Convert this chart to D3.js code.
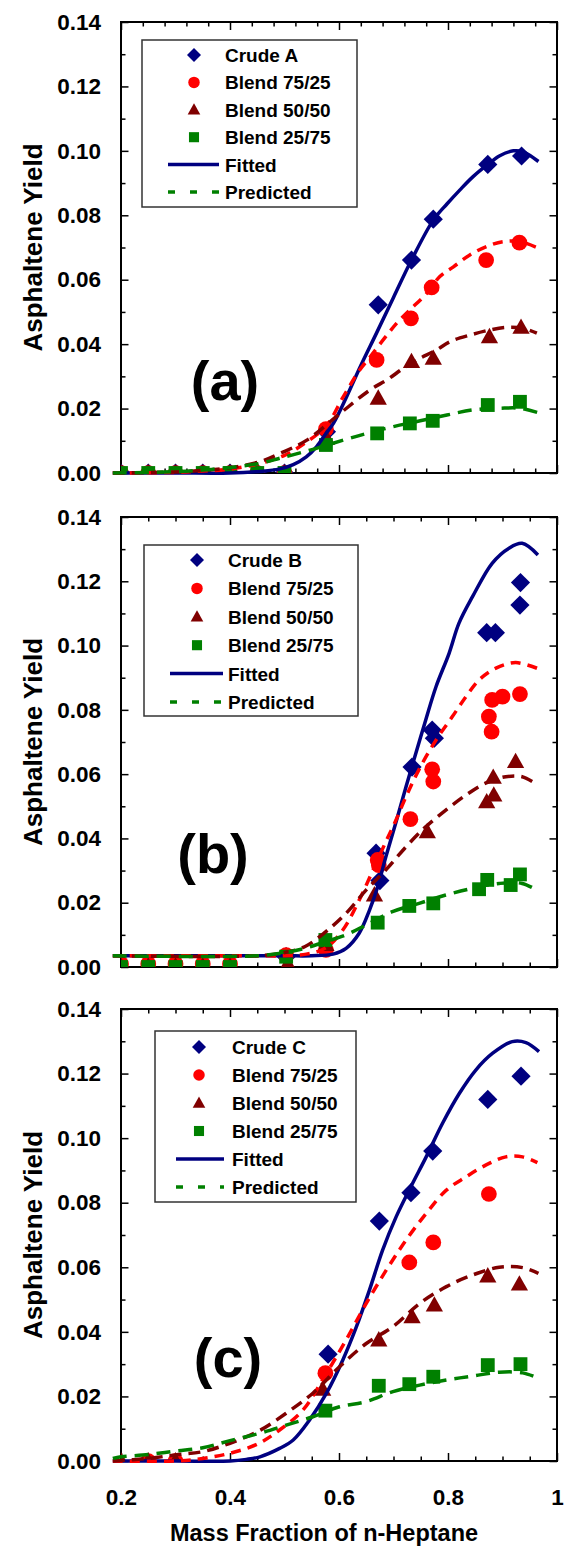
<!DOCTYPE html>
<html><head><meta charset="utf-8">
<script src="https://cdn.jsdelivr.net/npm/d3@7"></script>
<style>
body{margin:0;background:#fff}
svg{display:block}
text{font-family:"Liberation Sans",Arial,sans-serif;font-weight:bold;fill:#000}
</style>
</head><body>
<svg id="chart" width="566" height="1548"></svg>
<script>
// ---------- data ----------
const seriesLabels = ["Blend 75/25", "Blend 50/50", "Blend 25/75"];
const lineLabels = ["Fitted", "Predicted"];
const yTickValues = [0, 0.02, 0.04, 0.06, 0.08, 0.10, 0.12, 0.14];
const yTickLabels = ["0.00", "0.02", "0.04", "0.06", "0.08", "0.10", "0.12", "0.14"];
const xTickValues = [0.2, 0.4, 0.6, 0.8, 1.0];
const xTickLabels = ["0.2", "0.4", "0.6", "0.8", "1"];
const xTitle = "Mass Fraction of n-Heptane";
const yTitle = "Asphaltene Yield";

// Panel (a)
const crudeA = [[0.2,0],[0.25,0],[0.3,0],[0.35,0],[0.4,0],[0.45,0],[0.5,0],[0.577,0.0128],[0.672,0.0522],[0.733,0.0661],[0.773,0.0788],[0.873,0.0958],[0.935,0.0984]];
const blend75A = [[0.2,0],[0.25,0],[0.3,0],[0.35,0],[0.4,0],[0.45,0],[0.5,0],[0.576,0.0136],[0.669,0.0351],[0.732,0.048],[0.770,0.0576],[0.870,0.0661],[0.931,0.0715]];
const blend50A = [[0.2,0],[0.25,0],[0.3,0],[0.35,0],[0.4,0],[0.45,0],[0.5,0],[0.577,0.0108],[0.672,0.0232],[0.733,0.0346],[0.773,0.0356],[0.876,0.0423],[0.934,0.0452]];
const blend25A = [[0.2,0],[0.25,0],[0.3,0],[0.35,0],[0.4,0],[0.45,0],[0.5,0],[0.576,0.0087],[0.670,0.0123],[0.730,0.0154],[0.772,0.0162],[0.873,0.0211],[0.932,0.0221]];
const fittedA = [[0.185,0],[0.3,0],[0.4,0],[0.455,0.0005],[0.49,0.0012],[0.516,0.0026],[0.54,0.005],[0.559,0.0082],[0.577,0.0125],[0.59,0.0155],[0.614,0.0237],[0.639,0.033],[0.669,0.0435],[0.70,0.0545],[0.733,0.0661],[0.773,0.0785],[0.798,0.0835],[0.822,0.0879],[0.846,0.092],[0.873,0.0958],[0.895,0.0985],[0.92,0.1],[0.938,0.0997],[0.966,0.0967]];
const pred75A = [[0.185,0],[0.3,0.0002],[0.35,0.0006],[0.4,0.0012],[0.455,0.003],[0.5,0.0055],[0.535,0.009],[0.576,0.0145],[0.608,0.0237],[0.638,0.032],[0.657,0.036],[0.681,0.0413],[0.706,0.0465],[0.73,0.0506],[0.761,0.0558],[0.785,0.061],[0.81,0.064],[0.84,0.0677],[0.871,0.0703],[0.901,0.0718],[0.932,0.0718],[0.963,0.070]];
const pred50A = [[0.185,0],[0.3,0.0003],[0.35,0.0008],[0.4,0.0016],[0.455,0.0035],[0.492,0.0061],[0.541,0.0102],[0.602,0.0185],[0.657,0.0258],[0.688,0.0289],[0.718,0.0325],[0.743,0.0351],[0.779,0.0382],[0.804,0.0408],[0.84,0.0428],[0.877,0.0444],[0.908,0.0452],[0.938,0.0449],[0.963,0.0434]];
const pred25A = [[0.185,0],[0.3,0.0004],[0.35,0.0009],[0.4,0.0017],[0.455,0.003],[0.492,0.0046],[0.547,0.0071],[0.608,0.0102],[0.651,0.0123],[0.70,0.0144],[0.749,0.0162],[0.798,0.018],[0.846,0.0196],[0.895,0.0201],[0.932,0.0201],[0.966,0.0187]];

// Panel (b)
const crudeB = [[0.503,0.0032],[0.668,0.0354],[0.675,0.0269],[0.734,0.0622],[0.771,0.0737],[0.775,0.0712],[0.871,0.104],[0.887,0.104],[0.932,0.1126],[0.933,0.1196]];
const blend75B = [[0.2,0.001],[0.25,0.001],[0.3,0.001],[0.35,0.001],[0.4,0.001],[0.503,0.0037],[0.576,0.0053],[0.671,0.0333],[0.673,0.0317],[0.731,0.046],[0.771,0.0615],[0.773,0.0577],[0.875,0.0779],[0.880,0.0732],[0.881,0.0831],[0.900,0.0841],[0.932,0.0849]];
const blend50B = [[0.2,0.0003],[0.25,0.0003],[0.3,0.0003],[0.35,0.0003],[0.4,0.0003],[0.506,0.001],[0.576,0.007],[0.665,0.0224],[0.762,0.0421],[0.871,0.0514],[0.883,0.059],[0.884,0.0535],[0.924,0.0639]];
const blend25B = [[0.2,0],[0.25,0],[0.3,0],[0.35,0],[0.4,0],[0.503,0.0032],[0.575,0.0084],[0.671,0.0138],[0.729,0.019],[0.773,0.0198],[0.857,0.0242],[0.872,0.0271],[0.915,0.0255],[0.932,0.0288]];
const fittedB = [[0.185,0.0035],[0.3,0.0035],[0.4,0.0035],[0.5,0.0035],[0.55,0.0035],[0.589,0.004],[0.613,0.0058],[0.637,0.0105],[0.656,0.0177],[0.671,0.025],[0.686,0.0343],[0.704,0.0447],[0.723,0.0561],[0.741,0.0665],[0.759,0.0768],[0.778,0.0872],[0.802,0.0976],[0.82,0.1069],[0.845,0.1152],[0.881,0.1256],[0.912,0.1303],[0.936,0.1318],[0.965,0.1282]];
const pred75B = [[0.185,0.0035],[0.45,0.0035],[0.5,0.0035],[0.54,0.004],[0.576,0.006],[0.607,0.0115],[0.637,0.0208],[0.662,0.03],[0.686,0.039],[0.704,0.0455],[0.723,0.053],[0.747,0.0615],[0.778,0.0706],[0.808,0.0779],[0.833,0.0841],[0.857,0.0893],[0.887,0.0929],[0.924,0.0947],[0.964,0.0929]];
const pred50B = [[0.185,0.0035],[0.45,0.0035],[0.5,0.0045],[0.537,0.0063],[0.576,0.011],[0.613,0.0167],[0.65,0.024],[0.686,0.0302],[0.723,0.0374],[0.759,0.0436],[0.796,0.0488],[0.833,0.0535],[0.869,0.0572],[0.906,0.0592],[0.936,0.0592],[0.965,0.0566]];
const pred25B = [[0.185,0.0035],[0.45,0.0035],[0.5,0.0045],[0.537,0.0058],[0.576,0.0079],[0.613,0.01],[0.65,0.0131],[0.698,0.0172],[0.747,0.0198],[0.796,0.0224],[0.845,0.0245],[0.894,0.026],[0.936,0.026],[0.965,0.0237]];

// Panel (c)
const crudeC = [[0.580,0.0331],[0.674,0.0743],[0.732,0.0831],[0.772,0.096],[0.873,0.112],[0.934,0.1192]];
const blend75C = [[0.25,0],[0.3,0],[0.575,0.0272],[0.729,0.0615],[0.773,0.0677],[0.875,0.0827]];
const blend50C = [[0.2,0],[0.25,0],[0.3,0],[0.570,0.0222],[0.673,0.0375],[0.734,0.0447],[0.775,0.0483],[0.873,0.0573],[0.931,0.0548]];
const blend25C = [[0.575,0.0156],[0.673,0.0233],[0.729,0.0238],[0.773,0.0261],[0.873,0.0297],[0.933,0.030]];
const fittedC = [[0.185,0],[0.3,0],[0.4,0],[0.43,0.0005],[0.455,0.0013],[0.491,0.0039],[0.516,0.0065],[0.546,0.0127],[0.577,0.021],[0.607,0.0313],[0.632,0.0416],[0.656,0.053],[0.68,0.0653],[0.705,0.0757],[0.732,0.085],[0.76,0.0942],[0.79,0.1046],[0.821,0.1139],[0.851,0.1211],[0.882,0.1263],[0.918,0.1299],[0.943,0.1296],[0.967,0.1268]];
const pred75C = [[0.185,0],[0.3,0],[0.35,0.0008],[0.4,0.0024],[0.45,0.0052],[0.491,0.0096],[0.534,0.0158],[0.577,0.0272],[0.613,0.0375],[0.65,0.0488],[0.687,0.0592],[0.723,0.0684],[0.76,0.0767],[0.797,0.0839],[0.833,0.088],[0.87,0.0917],[0.906,0.0942],[0.937,0.0942],[0.964,0.0924]];
const pred50C = [[0.185,0],[0.25,0.0008],[0.3,0.0019],[0.35,0.0029],[0.4,0.0055],[0.455,0.0095],[0.503,0.0148],[0.552,0.021],[0.601,0.0292],[0.65,0.0364],[0.699,0.0416],[0.748,0.0488],[0.797,0.054],[0.845,0.0576],[0.894,0.06],[0.937,0.0599],[0.966,0.0581]];
const pred25C = [[0.185,0.0008],[0.2,0.0013],[0.25,0.002],[0.3,0.0031],[0.35,0.0041],[0.4,0.0063],[0.455,0.0086],[0.503,0.0111],[0.552,0.0137],[0.601,0.0168],[0.65,0.0184],[0.699,0.0215],[0.748,0.0235],[0.797,0.0251],[0.845,0.0263],[0.894,0.0275],[0.937,0.0273],[0.966,0.0256]];

// ---------- layout / styles ----------
const C_BLUE = "#000080", C_RED = "#ff0000", C_DRED = "#800000", C_GREEN = "#008000";
const panels = [
  {tag:"(a)", crude:"Crude A", top:22, bottom:473, minorStep:0.04, showX:false,
   pts:[crudeA,blend75A,blend50A,blend25A], fit:fittedA, pred:[pred75A,pred50A,pred25A],
   legend:{x:142,y:40,w:215,h:167,mx:194,tx:225,l1:168,l2:219,r0:55,dr:27.4},
   tagPos:[225,400]},
  {tag:"(b)", crude:"Crude B", top:517, bottom:967, minorStep:0.05, showX:false,
   pts:[crudeB,blend75B,blend50B,blend25B], fit:fittedB, pred:[pred75B,pred50B,pred25B],
   legend:{x:144,y:545,w:214,h:171,mx:197,tx:228,l1:170,l2:223,r0:560,dr:28.4},
   tagPos:[213,873]},
  {tag:"(c)", crude:"Crude C", top:1009, bottom:1461, minorStep:0.05, showX:true,
   pts:[crudeC,blend75C,blend50C,blend25C], fit:fittedC, pred:[pred75C,pred50C,pred25C],
   legend:{x:155,y:1031,w:201,h:171,mx:199,tx:232,l1:176,l2:224,r0:1047,dr:28},
   tagPos:[228,1377]}
];
const PL = 121, PR = 557;

const svg = d3.select("#chart");
const defs = svg.append("defs");

function marker(g, kind, cx, cy, s) {
  if (kind === 0) { // diamond
    g.append("path").attr("d", `M${cx},${cy-s}L${cx+s},${cy}L${cx},${cy+s}L${cx-s},${cy}Z`).attr("fill", C_BLUE);
  } else if (kind === 1) {
    g.append("circle").attr("cx", cx).attr("cy", cy).attr("r", s*0.82).attr("fill", C_RED);
  } else if (kind === 2) {
    const w = s*0.9, h = s*1.6;
    g.append("path").attr("d", `M${cx},${cy-h*0.58}L${cx+w},${cy+h*0.42}L${cx-w},${cy+h*0.42}Z`).attr("fill", C_DRED);
  } else {
    const a = s*0.72;
    g.append("rect").attr("x", cx-a).attr("y", cy-a).attr("width", 2*a).attr("height", 2*a).attr("fill", C_GREEN);
  }
}

panels.forEach((p, i) => {
  const x = d3.scaleLinear().domain([0.2, 1.0]).range([PL, PR]);
  const y = d3.scaleLinear().domain([0, 0.14]).range([p.bottom, p.top]);
  const g = svg.append("g");
  const clipId = "clip" + i;
  defs.append("clipPath").attr("id", clipId).append("rect")
    .attr("x", PL).attr("y", p.top).attr("width", PR-PL).attr("height", p.bottom-p.top);

  // minor ticks
  const xMinor = d3.range(0.2, 1.0001, p.minorStep).filter(v => Math.abs(v*5 - Math.round(v*5)) > 1e-6);
  const yMinor = d3.range(0.01, 0.14, 0.02);
  const axStyle = a => a.call(s => s.select(".domain").remove())
                        .call(s => s.selectAll("line").attr("stroke", "#000").attr("stroke-width", 1.5));

  g.append("g").attr("transform", `translate(0,${p.bottom})`)
    .call(d3.axisBottom(x).tickValues(xMinor).tickSize(-4.5).tickFormat("")).call(axStyle);
  g.append("g").attr("transform", `translate(0,${p.top})`)
    .call(d3.axisTop(x).tickValues(xMinor).tickSize(-4.5).tickFormat("")).call(axStyle);
  g.append("g").attr("transform", `translate(${PL},0)`)
    .call(d3.axisLeft(y).tickValues(yMinor).tickSize(-4.5).tickFormat("")).call(axStyle);
  g.append("g").attr("transform", `translate(${PR},0)`)
    .call(d3.axisRight(y).tickValues(yMinor).tickSize(-4.5).tickFormat("")).call(axStyle);

  // major ticks
  const bx = g.append("g").attr("transform", `translate(0,${p.bottom})`)
    .call(d3.axisBottom(x).tickValues(xTickValues).tickSize(-8).tickPadding(28)
      .tickFormat((d, k) => p.showX ? xTickLabels[k] : "")).call(axStyle);
  bx.selectAll("text").attr("font-size", 22.5).attr("font-family", "Liberation Sans, Arial, sans-serif").attr("font-weight", "bold").attr("fill", "#000");
  g.append("g").attr("transform", `translate(0,${p.top})`)
    .call(d3.axisTop(x).tickValues(xTickValues).tickSize(-8).tickFormat("")).call(axStyle);
  const ly = g.append("g").attr("transform", `translate(${PL},0)`)
    .call(d3.axisLeft(y).tickValues(yTickValues).tickSize(-7.5).tickPadding(20)
      .tickFormat((d, k) => yTickLabels[k])).call(axStyle);
  ly.selectAll("text").attr("font-size", 22.5).attr("font-family", "Liberation Sans, Arial, sans-serif").attr("font-weight", "bold").attr("fill", "#000");
  g.append("g").attr("transform", `translate(${PR},0)`)
    .call(d3.axisRight(y).tickValues(yTickValues).tickSize(-7.5).tickFormat("")).call(axStyle);

  // frame
  g.append("rect").attr("x", PL).attr("y", p.top).attr("width", PR-PL).attr("height", p.bottom-p.top)
    .attr("fill", "none").attr("stroke", "#000").attr("stroke-width", 2);

  // lines
  const line = d3.line().x(d => x(d[0])).y(d => y(d[1])).curve(d3.curveCatmullRom.alpha(0.5));
  const predColors = [C_RED, C_DRED, C_GREEN];
  const predDash = ["10,7", "12,7", "14,8"];
  // markers (clipped)
  const mg = g.append("g").attr("clip-path", `url(#${clipId})`);
  p.pts.forEach((arr, k) => {
    arr.forEach(d => marker(mg, k, x(d[0]), y(d[1]), 9.6));
  });
  const lg = g.append("g");
  lg.append("path").datum(p.fit).attr("d", line).attr("fill", "none")
    .attr("stroke", C_BLUE).attr("stroke-width", 3.5);
  p.pred.forEach((arr, k) => {
    lg.append("path").datum(arr).attr("d", line).attr("fill", "none")
      .attr("stroke", predColors[k]).attr("stroke-width", 3.5).attr("stroke-dasharray", predDash[k]);
  });

  // legend
  const L = p.legend;
  const leg = g.append("g");
  leg.append("rect").attr("x", L.x).attr("y", L.y).attr("width", L.w).attr("height", L.h)
    .attr("fill", "#fff").attr("stroke", "#333").attr("stroke-width", 1.5);
  const names = [p.crude].concat(seriesLabels).concat(lineLabels);
  names.forEach((nm, k) => {
    const cy = L.r0 + k*L.dr;
    if (k < 4) marker(leg, k, L.mx, cy, 7);
    else if (k === 4) leg.append("line").attr("x1", L.l1).attr("x2", L.l2).attr("y1", cy).attr("y2", cy)
      .attr("stroke", C_BLUE).attr("stroke-width", 3.5);
    else leg.append("line").attr("x1", L.l1).attr("x2", L.l2).attr("y1", cy).attr("y2", cy)
      .attr("stroke", C_GREEN).attr("stroke-width", 3.5).attr("stroke-dasharray", "7,15");
    leg.append("text").attr("x", L.tx).attr("y", cy + 7).attr("font-size", 19).text(nm);
  });

  // panel tag
  g.append("text").attr("x", p.tagPos[0]).attr("y", p.tagPos[1]).attr("text-anchor", "middle")
    .attr("font-size", 56).text(p.tag);

  // y title
  g.append("text").attr("transform", `translate(42,${(p.top+p.bottom)/2}) rotate(-90)`)
    .attr("text-anchor", "middle").attr("font-size", 26).text(yTitle);
});

svg.append("text").attr("x", 324).attr("y", 1541).attr("text-anchor", "middle")
  .attr("font-size", 23.5).text(xTitle);
</script>
</body></html>
